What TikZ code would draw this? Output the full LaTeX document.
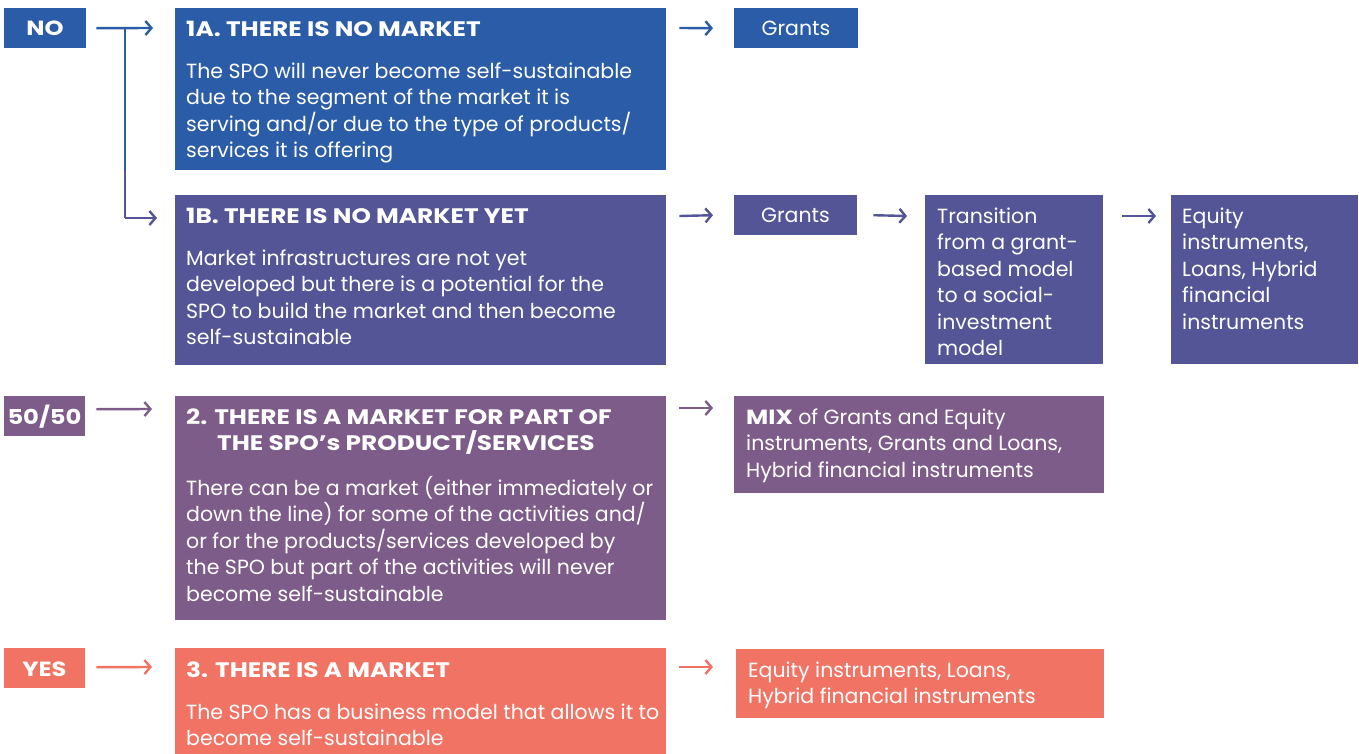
\documentclass[tikz,border=0pt]{standalone}
\usepackage{fontspec}
\setmainfont{Poppins}
\newfontfamily\ttlfont{Poppins}[FakeStretch=1.18]
\usetikzlibrary{arrows.meta,calc}
\definecolor{cblue}{HTML}{2B5CA8}
\definecolor{cindigo}{HTML}{535597}
\definecolor{cpurple}{HTML}{7E5C89}
\definecolor{csalmon}{HTML}{F17364}
\newcommand{\fl}{\rule{0pt}{18pt}}
\tikzset{
  box/.style={fill=#1, draw=none, inner sep=0pt, anchor=north west},
  txt/.style={text=white, inner sep=0pt, anchor=north west, align=left,
    font=\fontsize{20.5}{26.5}\selectfont},
  ttl/.style={text=white, inner sep=0pt, anchor=north west, align=left,
    font=\fontsize{21}{26.5}\selectfont\ttlfont\bfseries},
  lbl/.style={text=white, inner sep=0pt, anchor=base,
    font=\fontsize{20.5}{26.5}\selectfont\ttlfont\bfseries},
  arr/.style={draw=#1, line width=2.4pt, -{Straight Barb[length=6pt,width=14pt,line width=2.4pt]}},
  ln/.style={draw=#1, line width=2.4pt},
}
\begin{document}
\begin{tikzpicture}[x=1pt,y=-1pt]
\useasboundingbox (0,0) rectangle (1359,754);
% row labels
\node[box=cblue, minimum width=82pt, minimum height=40pt] (no) at (4,8) {};
\node[lbl] (not) at (45,36) {NO};
\node[box=cpurple, minimum width=81pt, minimum height=40pt] (ff) at (4,396) {};
\node[lbl] (fft) at (44.5,424) {50/50};
\node[box=csalmon, minimum width=81pt, minimum height=40pt] (yes) at (4,648) {};
\node[lbl] (yest) at (44.5,676) {YES};
% main boxes (text nodes placed with top = first baseline - 18)
\node[box=cblue, minimum width=491pt, minimum height=162pt] (a1) at (175,8) {};
\node[ttl] (a1t) at (186,18) {\fl 1A. THERE IS NO MARKET};
\node[txt] (a1b) at (186,60) {\fl The SPO will never become self-sustainable\\due to the segment of the market it is\\serving and/or due to the type of products/\\services it is offering};
\node[box=cindigo, minimum width=491pt, minimum height=170pt] (b1) at (175,195) {};
\node[ttl] (b1t) at (186,205) {\fl 1B. THERE IS NO MARKET YET};
\node[txt] (b1b) at (186,247) {\fl Market infrastructures are not yet\\developed but there is a potential for the\\SPO to build the market and then become\\self-sustainable};
\node[box=cpurple, minimum width=491pt, minimum height=224pt] (c2) at (175,396) {};
\node[ttl] (c2t) at (186,406) {\fl 2. THERE IS A MARKET FOR PART OF\\\hspace*{31pt}THE SPO’s PRODUCT/SERVICES};
\node[txt] (c2b) at (186,476) {\fl There can be a market (either immediately or\\down the line) for some of the activities and/\\or for the products/services developed by\\the SPO but part of the activities will never\\become self-sustainable};
\node[box=csalmon, minimum width=491pt, minimum height=106pt] (d3) at (175,648) {};
\node[ttl] (d3t) at (186,659) {\fl 3. THERE IS A MARKET};
\node[txt] (d3b) at (186,701) {\fl The SPO has a business model that allows it to\\become self-sustainable};
% result boxes
\node[box=cblue, minimum width=124pt, minimum height=40pt] (g1) at (734,8) {};
\node[txt, anchor=base] (g1t) at (796,35.5) {Grants};
\node[box=cindigo, minimum width=123pt, minimum height=40pt] (g2) at (734,195) {};
\node[txt, anchor=base] (g2t) at (795.5,222.5) {Grants};
\node[box=cindigo, minimum width=178pt, minimum height=169pt] (tr) at (925,195) {};
\node[txt] (trt) at (937,205) {\fl Transition\\from a grant-\\based model\\to a social-\\investment\\model};
\node[box=cindigo, minimum width=187pt, minimum height=169pt] (eq) at (1171,195) {};
\node[txt] (eqt) at (1182,205) {\fl Equity\\instruments,\\Loans, Hybrid\\financial\\instruments};
\node[box=cpurple, minimum width=370pt, minimum height=97pt] (mix) at (734,396) {};
\node[txt] (mixt) at (746,406) {\fl{\ttlfont\bfseries MIX} of Grants and Equity\\instruments, Grants and Loans,\\Hybrid financial instruments};
\node[box=csalmon, minimum width=368pt, minimum height=69pt] (eq3) at (736,649) {};
\node[txt] (eq3t) at (748,659) {\fl Equity instruments, Loans,\\Hybrid financial instruments};
% connectors
\coordinate (br) at (125,28);
\coordinate (brm) at (125,170);
\coordinate (brb) at (125,218);
\draw[arr=cblue] ($(no.east)+(10,0)$) -- ($(a1.north west)+(-22,20)$);
\draw[ln=cblue] (br) -- (brm);
\draw[ln=cindigo] (brm) -- (brb);
\draw[arr=cindigo] (brb) -- ($(b1.north west)+(-18,23)$);
\draw[arr=cblue] ($(a1.north east)+(13,20)$) -- ($(g1.west)+(-21,0)$);
\draw[arr=cindigo] ($(b1.north east)+(13,21)$) -- ($(g2.west)+(-21,0)$);
\draw[arr=cindigo] ($(g2.east)+(16,0)$) -- ($(tr.north west)+(-18,21)$);
\draw[arr=cindigo] ($(tr.north east)+(19,21)$) -- ($(eq.north west)+(-15,21)$);
\draw[arr=cpurple] ($(ff.east)+(11,-7)$) -- ($(c2.north west)+(-23,13)$);
\draw[arr=cpurple] ($(c2.north east)+(13,12)$) -- ($(mix.north west)+(-21,12)$);
\draw[arr=csalmon] ($(yes.east)+(11,-1)$) -- ($(d3.north west)+(-23,19)$);
\draw[arr=csalmon] ($(d3.north east)+(13,19)$) -- ($(eq3.north west)+(-23,18)$);
\end{tikzpicture}
\end{document}
